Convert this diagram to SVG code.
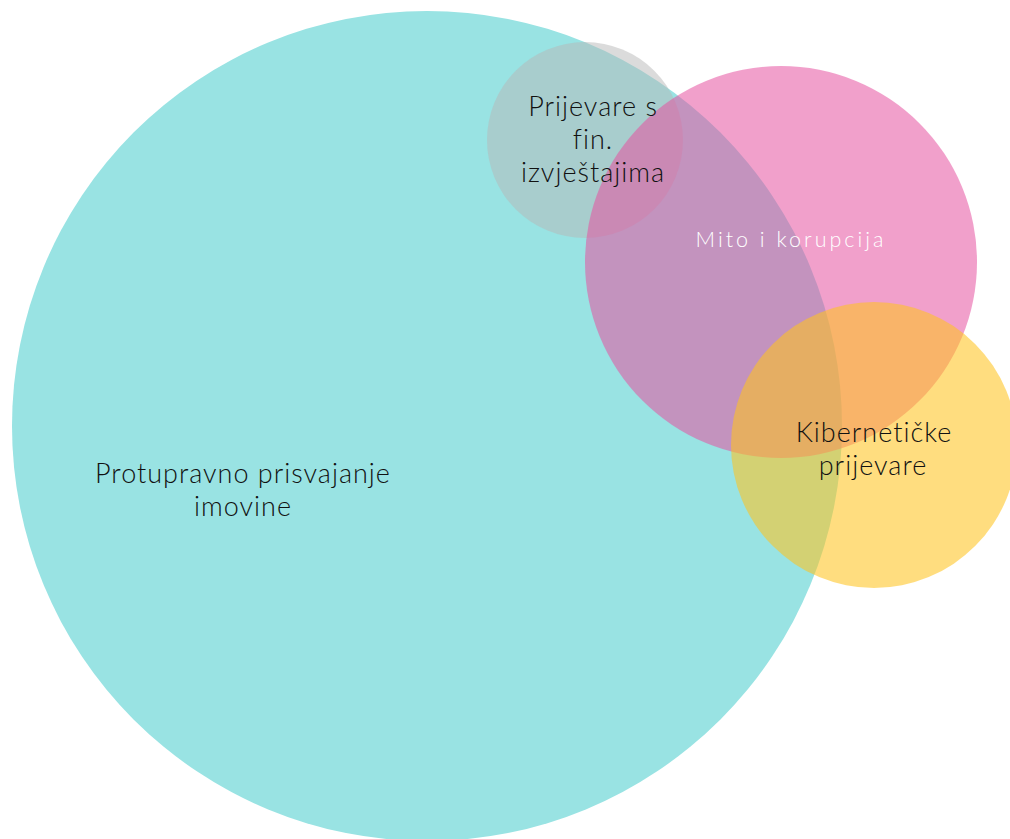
<svg xmlns="http://www.w3.org/2000/svg" width="1010" height="839" viewBox="0 0 1010 839">
<style>
text{font-family:Lato,"Open Sans","Liberation Sans",sans-serif;text-anchor:middle;fill:#111;font-weight:300}
.lbl{font-size:27px;letter-spacing:1px}
.w{fill:#fff;font-size:21.5px;letter-spacing:3px}
</style>
<rect width="1010" height="839" fill="#fff"/>
<g id="node-protupravno">
<circle cx="427" cy="426" r="415" fill="#99E3E3"/>
<text class="lbl" x="243" y="483">Protupravno prisvajanje</text>
<text class="lbl" x="243" y="516">imovine</text>
</g>
<g id="node-fin">
<circle cx="585" cy="140" r="98" fill="#B8B8B8" fill-opacity="0.5"/>
</g>
<g id="node-mito">
<circle cx="781" cy="262" r="196" fill="#E652A0" fill-opacity="0.55"/>
<text class="w" x="791" y="247">Mito i korupcija</text>
</g>
<g id="node-kiber">
<circle cx="874" cy="445" r="143" fill="#FFC31E" fill-opacity="0.57"/>
<text class="lbl" x="874" y="442">Kibernetičke</text>
<text class="lbl" x="873" y="475">prijevare</text>
</g>
<g id="labels-fin">
<text class="lbl" x="593" y="116">Prijevare s</text>
<text class="lbl" x="593" y="149">fin.</text>
<text class="lbl" x="593" y="182">izvještajima</text>
</g>
<g id="connectors"></g>
</svg>
